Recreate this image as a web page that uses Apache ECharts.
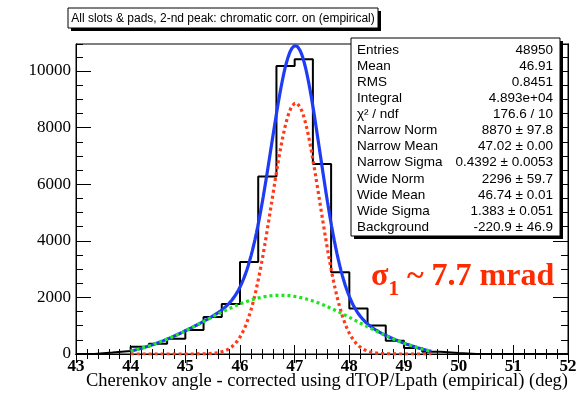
<!DOCTYPE html>
<html>
<head>
<meta charset="utf-8">
<script src="https://cdn.jsdelivr.net/npm/echarts@6/dist/echarts.min.js"></script>
<style>
  html, body { margin: 0; padding: 0; background: #ffffff; }
  #chart { width: 583px; height: 399px; }
</style>
</head>
<body>
<div id="chart"></div>
<script>
// Histogram: 27 bins of 1/3 deg between 43 and 52
const histMin = 43;
const histMax = 52;
const binCounts = [
  0, 50, 110, 260, 360, 540, 850, 1310, 1770,
  3250, 6270, 10175, 10420, 6710, 2885, 1605, 1005, 470,
  210, 80, 35, 0, 0, 0, 0, 0, 0
];

// Fit: narrow gaussian + wide gaussian + constant, over 44 .. 49.5
const fitRange = [44, 49.5];
const narrowPars = [8870, 47.02, 0.4392];   // norm, mean, sigma
const widePars = [2296, 46.74, 1.383];
const background = -220.9;

// Statistics box
const statNames = [
  'Entries', 'Mean', 'RMS', 'Integral', 'χ² / ndf',
  'Narrow Norm', 'Narrow Mean', 'Narrow Sigma',
  'Wide Norm', 'Wide Mean', 'Wide Sigma', 'Background'
];
const statValues = [
  '48950', '46.91', '0.8451', '4.893e+04', '176.6 / 10',
  '8870 ± 97.8', '47.02 ± 0.00', '0.4392 ± 0.0053',
  '2296 ± 59.7', '46.74 ± 0.01', '1.383 ± 0.051', '-220.9 ± 46.9'
];

const titleText = 'All slots & pads, 2-nd peak: chromatic corr. on (empirical)';
const xTitle = 'Cherenkov angle - corrected using dTOP/Lpath (empirical) (deg)';
const yMax = 10955;

// step outline of the histogram
const nBins = binCounts.length;
const binW = (histMax - histMin) / nBins;
const histPath = [];
binCounts.forEach((v, i) => {
  histPath.push([histMin + i * binW, v]);
  histPath.push([histMin + (i + 1) * binW, v]);
});

function gaus(x, p) {
  const t = (x - p[1]) / p[2];
  return p[0] * Math.exp(-0.5 * t * t);
}
const nSteps = 220;
const totalCurve = [], narrowCurve = [], wideCurve = [];
for (let k = 0; k <= nSteps; k++) {
  const x = fitRange[0] + (fitRange[1] - fitRange[0]) * k / nSteps;
  const n = gaus(x, narrowPars);
  const w = gaus(x, widePars) + background;
  totalCurve.push([x, n + w]);
  narrowCurve.push([x, n]);
  wideCurve.push([x, w]);
}

const chart = echarts.init(document.getElementById('chart'), null, { renderer: 'canvas' });

const serif = 'Liberation Serif';
const sans = 'Liberation Sans';

function xAxisDef(pos, interval, len, labels) {
  return {
    type: 'value', position: pos, min: histMin, max: histMax, interval: interval,
    axisLine: { show: true, lineStyle: { color: '#000', width: 1 } },
    axisTick: { show: true, inside: true, length: len, lineStyle: { color: '#000', width: 1 } },
    axisLabel: labels ? { show: true, color: '#000', fontFamily: serif, fontWeight: 'bold', fontSize: 17, margin: 4 } : { show: false },
    splitLine: { show: false }
  };
}
function yAxisDef(pos, interval, len, labels) {
  return {
    type: 'value', position: pos, min: 0, max: yMax, interval: interval,
    axisLine: { show: true, lineStyle: { color: '#000', width: 1 } },
    axisTick: { show: true, inside: true, length: len, lineStyle: { color: '#000', width: 1 } },
    axisLabel: labels ? {
      show: true, color: '#000', fontFamily: serif, fontSize: 17, margin: 5, showMaxLabel: false,
      formatter: v => String(v)
    } : { show: false },
    splitLine: { show: false }
  };
}

// stats box elements
const boxL = 351, boxT = 38, boxR = 560, boxB = 236, rowH = 16.1;
const statElems = [];
statNames.forEach((name, i) => {
  const y = boxT + 12 + i * rowH;
  statElems.push({
    type: 'text', z: 20, position: [boxL + 6, y],
    style: { text: name, fontFamily: sans, fontSize: 13.5, fill: '#000', textVerticalAlign: 'middle' }
  });
  statElems.push({
    type: 'text', z: 20, position: [boxR - 7, y],
    style: { text: statValues[i], fontFamily: sans, fontSize: 13.5, fill: '#000', textAlign: 'right', textVerticalAlign: 'middle' }
  });
});

const option = {
  animation: false,
  backgroundColor: '#ffffff',
  grid: { left: 76, right: 15, top: 44, height: 310, show: true, borderColor: '#000', borderWidth: 1, backgroundColor: 'transparent' },
  xAxis: [
    xAxisDef('bottom', 1, 9, true),
    xAxisDef('bottom', 0.2, 5, false),
    xAxisDef('top', 1, 9, false),
    xAxisDef('top', 0.2, 5, false)
  ],
  yAxis: [
    yAxisDef('left', 2000, 15, true),
    yAxisDef('left', 500, 7, false),
    yAxisDef('right', 2000, 15, false),
    yAxisDef('right', 500, 7, false)
  ],
  series: [
    {
      type: 'line', data: histPath, showSymbol: false, symbol: 'none',
      lineStyle: { color: '#000', width: 2 }, z: 2
    },
    {
      type: 'line', data: totalCurve, showSymbol: false, symbol: 'none',
      lineStyle: { color: '#1f3cf5', width: 3.2 }, z: 3
    },
    {
      type: 'line', data: narrowCurve, showSymbol: false, symbol: 'none',
      lineStyle: { color: '#ff3a1a', width: 3.2, type: [3, 3] }, z: 4
    },
    {
      type: 'line', data: wideCurve, showSymbol: false, symbol: 'none',
      lineStyle: { color: '#1ee61e', width: 3.2, type: [3, 3] }, z: 5
    }
  ],
  graphic: [
    // title pave with shadow
    { type: 'rect', shape: { x: 71, y: 11, width: 310, height: 20 }, style: { fill: '#000' }, z: 10 },
    { type: 'rect', shape: { x: 68, y: 8, width: 310, height: 20 }, style: { fill: '#fff', stroke: '#000', lineWidth: 1 }, z: 11 },
    { type: 'text', position: [223, 18.5], z: 12,
      style: { text: titleText, fontFamily: sans, fontSize: 12, fill: '#000', textAlign: 'center', textVerticalAlign: 'middle' } },
    // stats pave with shadow
    { type: 'rect', shape: { x: boxL + 3, y: boxT + 3, width: boxR - boxL, height: boxB - boxT }, style: { fill: '#000' }, z: 18 },
    { type: 'rect', shape: { x: boxL, y: boxT, width: boxR - boxL, height: boxB - boxT }, style: { fill: '#fff', stroke: '#000', lineWidth: 1 }, z: 19 },
    ...statElems,
    // resolution annotation
    { type: 'text', position: [371, 293], z: 25,
      style: {
        text: '{s|σ}{i|1}{s| ~ 7.7 mrad}',
        textVerticalAlign: 'bottom',
        rich: {
          s: { fontFamily: serif, fontWeight: 'bold', fontSize: 32, fill: '#ff2a00', color: '#ff2a00' },
          i: { fontFamily: serif, fontWeight: 'bold', fontSize: 21, fill: '#ff2a00', color: '#ff2a00', verticalAlign: 'bottom', padding: [0, 0, -7, 0] }
        }
      } },
    // x axis title
    { type: 'text', position: [568, 391], z: 12,
      style: { text: xTitle, fontFamily: serif, fontSize: 18.5, fill: '#000', textAlign: 'right', textVerticalAlign: 'bottom' } }
  ]
};

chart.setOption(option);
</script>
</body>
</html>
